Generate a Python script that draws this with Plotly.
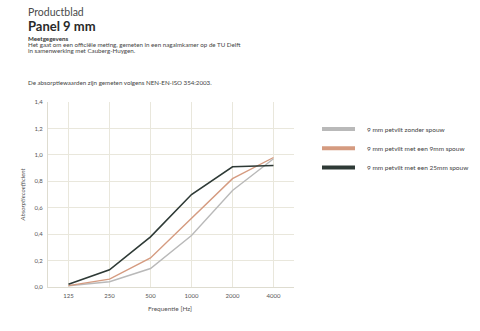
import plotly.graph_objects as go

# Absorption coefficients per octave band
frequencies = ["125", "250", "500", "1000", "2000", "4000"]
series_names = [
    "9 mm petvilt zonder spouw",
    "9 mm petvilt met een 9mm spouw",
    "9 mm petvilt met een 25mm spouw",
]
no_cavity = [0.01, 0.04, 0.14, 0.39, 0.73, 0.97]
cavity_9mm = [0.01, 0.06, 0.22, 0.52, 0.82, 0.98]
cavity_25mm = [0.02, 0.13, 0.38, 0.70, 0.91, 0.92]
y_ticks = [0.0, 0.2, 0.4, 0.6, 0.8, 1.0, 1.2, 1.4]

colors = ["#b9b9b9", "#d59b80", "#2e3a36"]
widths = [1.4, 1.4, 1.6]

W, H = 480, 331
L, R, T, B = 48, 186, 102, 44
FONT = "Lato, 'Open Sans', sans-serif"
GRID = "#e9e7dc"


def px(x, y):
    """Pixel position -> paper coordinates."""
    return (x - L) / (W - L - R), (H - B - y) / (H - T - B)


fig = go.Figure()
for name, vals, c, w in zip(series_names, [no_cavity, cavity_9mm, cavity_25mm], colors, widths):
    fig.add_trace(go.Scatter(x=frequencies, y=vals, mode="lines", name=name,
                             line=dict(color=c, width=w), showlegend=False))

# legend swatches and labels
for i, (name, c) in enumerate(zip(series_names, colors)):
    yy = 129 + i * 19.3
    x0, y0 = px(322, yy)
    x1, _ = px(355, yy)
    fig.add_shape(type="line", xref="paper", yref="paper", x0=x0, x1=x1, y0=y0, y1=y0,
                  line=dict(color=c, width=4))
    tx, ty = px(365, yy)
    fig.add_annotation(xref="paper", yref="paper", x=tx, y=ty, text=name, showarrow=False,
                       xanchor="left", yanchor="middle",
                       font=dict(family=FONT, size=6.5, color="#444"))

# header texts
header = [
    ("Productblad", 10.5, "#4a4a4a", 12),
    ("<b>Panel 9 mm</b>", 13, "#2a2a2a", 26),
    ("<b>Meetgegevens</b>", 6.2, "#333", 38.8),
    ("Het gaat om een officiële meting, gemeten in een nagalmkamer op de TU Delft", 6.2, "#444", 44.3),
    ("in samenwerking met Cauberg-Huygen.", 6.2, "#444", 50),
    ("De absorptiewaarden zijn gemeten volgens NEN-EN-ISO 354:2003.", 6.2, "#444", 83),
]
for text, size, col, yy in header:
    hx, hy = px(26, yy)
    fig.add_annotation(xref="paper", yref="paper", x=hx, y=hy, text=text, showarrow=False,
                       xanchor="left", yanchor="middle",
                       font=dict(family=FONT, size=size, color=col))

# axis titles
ax, ay = px(21.5, 195)
fig.add_annotation(xref="paper", yref="paper", x=ax, y=ay, text="<i>Absorptiecoefficient</i>",
                   showarrow=False, textangle=-90, xanchor="center", yanchor="middle",
                   font=dict(family=FONT, size=6.3, color="#555"))
bx, by = px(170, 308)
fig.add_annotation(xref="paper", yref="paper", x=bx, y=by, text="Frequentie [Hz]",
                   showarrow=False, xanchor="center", yanchor="middle",
                   font=dict(family=FONT, size=6.5, color="#555"))

fig.update_layout(
    width=W, height=H,
    margin=dict(l=L, r=R, t=T, b=B),
    paper_bgcolor="white", plot_bgcolor="white",
    separators=",.",
    font=dict(family=FONT, size=6, color="#555"),
    xaxis=dict(type="category", range=[-0.5, 5.5], showgrid=True, gridcolor=GRID, gridwidth=1,
               showline=True, linecolor="#dedcd0", linewidth=1, ticks="", zeroline=False,
               tickfont=dict(size=6, color="#555"), ticklabelstandoff=3),
    yaxis=dict(range=[0, 1.4], tickvals=y_ticks, tickformat=".1f", showgrid=True,
               gridcolor=GRID, gridwidth=1, showline=True, linecolor="#dedcd0", linewidth=1,
               ticks="", zeroline=False, tickfont=dict(size=6, color="#555"), ticklabelstandoff=3),
)

fig.write_html("out.html")
